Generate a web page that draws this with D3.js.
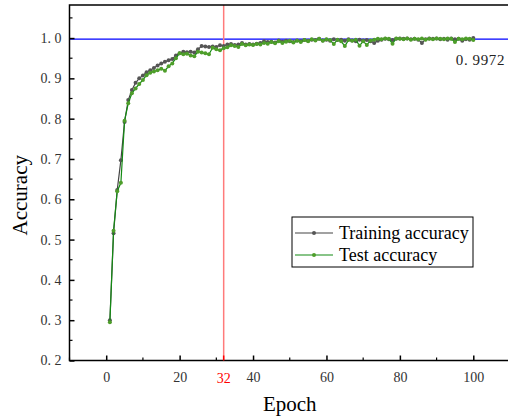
<!DOCTYPE html>
<html>
<head>
<meta charset="utf-8">
<script src="https://cdn.jsdelivr.net/npm/d3@7"></script>
<style>
    body { margin: 0; background: #fff; }
    text { font-family: "Liberation Serif", "DejaVu Serif", serif; }
</style>
</head>
<body>
<div id="chart"></div>
<script>
'use strict';

// Data
const epochs = d3.range(1, 101);
const trainAcc = [
    0.300, 0.516, 0.623, 0.697, 0.792, 0.846, 0.871, 0.889, 0.900, 0.907,
    0.915, 0.920, 0.926, 0.932, 0.937, 0.941, 0.945, 0.948, 0.957, 0.962,
    0.966, 0.965, 0.966, 0.964, 0.972, 0.980, 0.979, 0.978, 0.979, 0.978,
    0.982, 0.980, 0.984, 0.985, 0.983, 0.984, 0.988, 0.984, 0.985, 0.984,
    0.986, 0.988, 0.992, 0.990, 0.991, 0.989, 0.994, 0.991, 0.993, 0.992,
    0.990, 0.994, 0.992, 0.995, 0.993, 0.996, 0.995, 0.998, 0.994, 0.996,
    0.993, 0.997, 0.995, 0.996, 0.993, 0.997, 0.994, 0.992, 0.996, 0.994,
    0.995, 0.992, 0.988, 0.993, 0.996, 0.998, 0.997, 0.995, 0.998, 0.999,
    0.998, 0.999, 0.997, 0.998, 0.996, 0.988, 0.997, 0.999, 0.998, 0.999,
    0.997, 0.998, 0.996, 0.999, 0.997, 0.998, 0.993, 0.997, 0.996, 1.000
];
const testAcc = [
    0.295, 0.522, 0.620, 0.641, 0.795, 0.838, 0.863, 0.875, 0.886, 0.896,
    0.908, 0.914, 0.917, 0.920, 0.924, 0.919, 0.930, 0.937, 0.950, 0.962,
    0.960, 0.961, 0.957, 0.955, 0.966, 0.964, 0.962, 0.960, 0.976, 0.972,
    0.970, 0.975, 0.977, 0.982, 0.980, 0.978, 0.985, 0.982, 0.984, 0.983,
    0.985, 0.984, 0.988, 0.986, 0.990, 0.987, 0.992, 0.988, 0.991, 0.993,
    0.989, 0.993, 0.990, 0.995, 0.992, 0.997, 0.994, 0.998, 0.993, 0.997,
    0.995, 0.985, 0.996, 0.992, 0.980, 0.995, 0.993, 0.996, 0.981, 0.992,
    0.983, 0.994, 0.996, 0.998, 0.997, 0.999, 0.998, 0.986, 0.999, 0.998,
    0.997, 0.999, 0.996, 0.998, 0.997, 0.999, 0.996, 0.998, 0.997, 0.999,
    0.998, 0.997, 0.999, 0.998, 0.990, 0.998, 0.997, 0.999, 0.998, 0.995
];
const xTicks = [0, 20, 40, 60, 80, 100];
const yTicks = [0.2, 0.3, 0.4, 0.5, 0.6, 0.7, 0.8, 0.9, 1.0];
const bestEpoch = 32;
const bestAcc = 0.9972;
const seriesNames = ['Training accuracy', 'Test accuracy'];

// Config
const svgW = 508, svgH = 418;
const plot = {left: 69.5, right: 510, top: 5, bottom: 360.5};
const trainColor = '#444444', trainDot = '#555555';
const testColor = '#138a13', testDot = '#4e9e2a';
const tickFont = 14, tickColor = '#333';

const xScale = d3.scaleLinear().domain([-10, 110]).range([plot.left, plot.right]);
const yScale = d3.scaleLinear().domain([0.2, 1.082]).range([plot.bottom, plot.top]);

const svg = d3.select('#chart').append('svg')
    .attr('width', svgW)
    .attr('height', svgH);

const fmt = v => d3.format('.1f')(v).replace('.', '. ');

// Reference lines
svg.append('line')
    .attr('x1', plot.left).attr('x2', plot.right)
    .attr('y1', yScale(bestAcc)).attr('y2', yScale(bestAcc))
    .attr('stroke', '#0000ff').attr('stroke-width', 1.2);
svg.append('line')
    .attr('x1', xScale(bestEpoch)).attr('x2', xScale(bestEpoch))
    .attr('y1', plot.top).attr('y2', plot.bottom)
    .attr('stroke', '#ff7b7b').attr('stroke-width', 1.5);

// Series
const line = d3.line().x((d, i) => xScale(epochs[i])).y(d => yScale(d));
const series = [
    {values: trainAcc, color: trainColor, dot: trainDot},
    {values: testAcc, color: testColor, dot: testDot}
];
series.forEach(s => {
    const g = svg.append('g');
    g.append('path')
        .attr('d', line(s.values))
        .attr('fill', 'none')
        .attr('stroke', s.color)
        .attr('stroke-width', 1.2);
    g.selectAll('circle')
        .data(s.values)
        .join('circle')
        .attr('cx', (d, i) => xScale(epochs[i]))
        .attr('cy', d => yScale(d))
        .attr('r', 2)
        .attr('fill', s.dot);
});

// Frame
svg.append('rect')
    .attr('x', plot.left).attr('y', plot.top)
    .attr('width', plot.right - plot.left).attr('height', plot.bottom - plot.top)
    .attr('fill', 'none').attr('stroke', '#000').attr('stroke-width', 1.5);

// X axis
const xAxis = d3.axisBottom(xScale)
    .tickValues(xTicks)
    .tickSize(-5)
    .tickPadding(12)
    .tickFormat(d3.format('d'));
const xAxisG = svg.append('g')
    .attr('transform', `translate(0,${plot.bottom})`)
    .call(xAxis);
xAxisG.select('.domain').remove();
xAxisG.selectAll('.tick line').attr('stroke', '#000').attr('stroke-width', 1.5);
xAxisG.selectAll('.tick text').attr('font-size', tickFont).attr('fill', tickColor);
xAxisG.selectAll('.minor')
    .data(d3.range(-10, 111, 10).filter(d => d % 20 !== 0))
    .join('line')
    .attr('x1', d => xScale(d)).attr('x2', d => xScale(d))
    .attr('y1', 0).attr('y2', -3)
    .attr('stroke', '#000').attr('stroke-width', 1.2);
// best epoch marker
xAxisG.append('line')
    .attr('x1', xScale(bestEpoch)).attr('x2', xScale(bestEpoch))
    .attr('y1', 0).attr('y2', -5)
    .attr('stroke', '#ff0000').attr('stroke-width', 1.5);
xAxisG.append('text')
    .attr('x', xScale(bestEpoch)).attr('y', 22)
    .attr('text-anchor', 'middle')
    .attr('font-size', tickFont)
    .attr('fill', '#ff0000')
    .text(bestEpoch);

// Y axis
const yAxis = d3.axisLeft(yScale)
    .tickValues(yTicks)
    .tickSize(-5)
    .tickPadding(8)
    .tickFormat(fmt);
const yAxisG = svg.append('g')
    .attr('transform', `translate(${plot.left},0)`)
    .call(yAxis);
yAxisG.select('.domain').remove();
yAxisG.selectAll('.tick line').attr('stroke', '#000').attr('stroke-width', 1.5);
yAxisG.selectAll('.tick text').attr('font-size', tickFont).attr('fill', tickColor);
yAxisG.selectAll('.minor')
    .data(d3.range(0.25, 1.08, 0.1))
    .join('line')
    .attr('x1', 0).attr('x2', 3)
    .attr('y1', d => yScale(d)).attr('y2', d => yScale(d))
    .attr('stroke', '#000').attr('stroke-width', 1.2);

// Axis titles
svg.append('text')
    .attr('x', (xScale(0) + xScale(100)) / 2).attr('y', 411)
    .attr('text-anchor', 'middle')
    .attr('font-size', 21)
    .text('Epoch');
svg.append('text')
    .attr('transform', `translate(27,${yScale(0.61)}) rotate(-90)`)
    .attr('text-anchor', 'middle')
    .attr('font-size', 21)
    .text('Accuracy');

// Best value label
svg.append('text')
    .attr('x', 505).attr('y', 65)
    .attr('text-anchor', 'end')
    .attr('font-size', 15)
    .attr('letter-spacing', 0.6)
    .attr('fill', '#222')
    .text(bestAcc.toString().replace('.', '. '));

// Legend
const legend = svg.append('g').attr('transform', 'translate(292,217)');
legend.append('rect')
    .attr('width', 181).attr('height', 50)
    .attr('fill', '#fff').attr('stroke', '#000').attr('stroke-width', 1);
series.forEach((s, i) => {
    const y = 16 + i * 22;
    legend.append('line')
        .attr('x1', 3).attr('x2', 41)
        .attr('y1', y).attr('y2', y)
        .attr('stroke', s.color).attr('stroke-width', 1.2);
    legend.append('circle')
        .attr('cx', 22).attr('cy', y).attr('r', 2)
        .attr('fill', s.dot);
    legend.append('text')
        .attr('x', 47).attr('y', y + 5.5)
        .attr('font-size', 18)
        .text(seriesNames[i]);
});
</script>
</body>
</html>
